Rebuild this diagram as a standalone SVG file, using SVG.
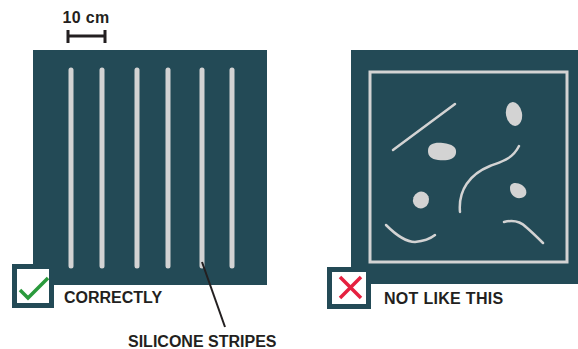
<svg xmlns="http://www.w3.org/2000/svg" width="578" height="349" viewBox="0 0 578 349">
<style>
.panel{fill:#234a56}
.lt{stroke:#d3d3d3;fill:none;stroke-linecap:round}
.stripe{stroke:#d3d3d3;stroke-width:5;stroke-linecap:round}
.blob{fill:#d3d3d3}
.lbl{font-family:"Liberation Sans",Arial,sans-serif;font-weight:bold;fill:#231f20;font-size:16px}
.box{fill:#fff;stroke:#234a56;stroke-width:5}
</style>
<g id="scale">
<text class="lbl" x="86" y="23" text-anchor="middle" letter-spacing="0.3">10 cm</text>
<path d="M68 36 H105 M68 30 V43 M105 30 V43" stroke="#231f20" stroke-width="3" fill="none"/>
</g>
<g id="correct-panel">
<rect class="panel" x="33" y="50" width="234" height="235"/>
<line class="stripe" x1="71" y1="70" x2="71" y2="266"/>
<line class="stripe" x1="102" y1="70" x2="102" y2="266"/>
<line class="stripe" x1="137" y1="70" x2="137" y2="266"/>
<line class="stripe" x1="168" y1="70" x2="168" y2="266"/>
<line class="stripe" x1="202" y1="70" x2="202" y2="266"/>
<line class="stripe" x1="232" y1="70" x2="232" y2="266"/>
</g>
<g id="wrong-panel">
<rect class="panel" x="351" y="50" width="227" height="234"/>
<rect x="370" y="72" width="197" height="190" fill="none" stroke="#d3d3d3" stroke-width="3"/>
<line class="lt" stroke-width="2.5" x1="393" y1="150" x2="455" y2="104"/>
<ellipse class="blob" cx="514" cy="114" rx="8" ry="12" transform="rotate(-10 514 114)"/>
<path class="blob" d="M428 151 C428 143 436 142 443 143 C452 144 457 147 456 153 C455 160 446 161 438 160 C431 159 428 156 428 151 Z"/>
<path class="lt" stroke-width="2.5" d="M519 146 C512 160 500 162 490 166 C470 174 458 190 460 212"/>
<path class="blob" d="M510 188 C510 182 517 182 522 185 C528 189 528 197 521 198 C514 199 510 194 510 188 Z"/>
<ellipse class="blob" cx="421" cy="200" rx="8" ry="8.5" transform="rotate(20 421 200)"/>
<path class="lt" stroke-width="2.5" d="M386 225 C396 235 405 242 415 242 C425 241 430 239 435 235"/>
<path class="lt" stroke-width="2.5" d="M504 222 C512 220 520 221 526 227 C533 233 538 238 543 243"/>
</g>
<g id="correct-label">
<rect class="box" x="14.5" y="266.5" width="37" height="39"/>
<path d="M20 290 L28 298 L48 278" stroke="#2a9a3c" stroke-width="3.5" fill="none"/>
<text class="lbl" x="64" y="303">CORRECTLY</text>
</g>
<g id="wrong-label">
<rect class="box" x="329.5" y="269.5" width="39" height="37"/>
<path d="M340 277 L361 298 M361 277 L340 298" stroke="#e5203f" stroke-width="3.5" fill="none"/>
<text class="lbl" x="384" y="304" letter-spacing="0.3">NOT LIKE THIS</text>
</g>
<g id="connectors">
<line x1="202" y1="262" x2="225" y2="327" stroke="#231f20" stroke-width="2"/>
</g>
<g id="stripes-label">
<text class="lbl" x="128" y="347">SILICONE STRIPES</text>
</g>
</svg>
